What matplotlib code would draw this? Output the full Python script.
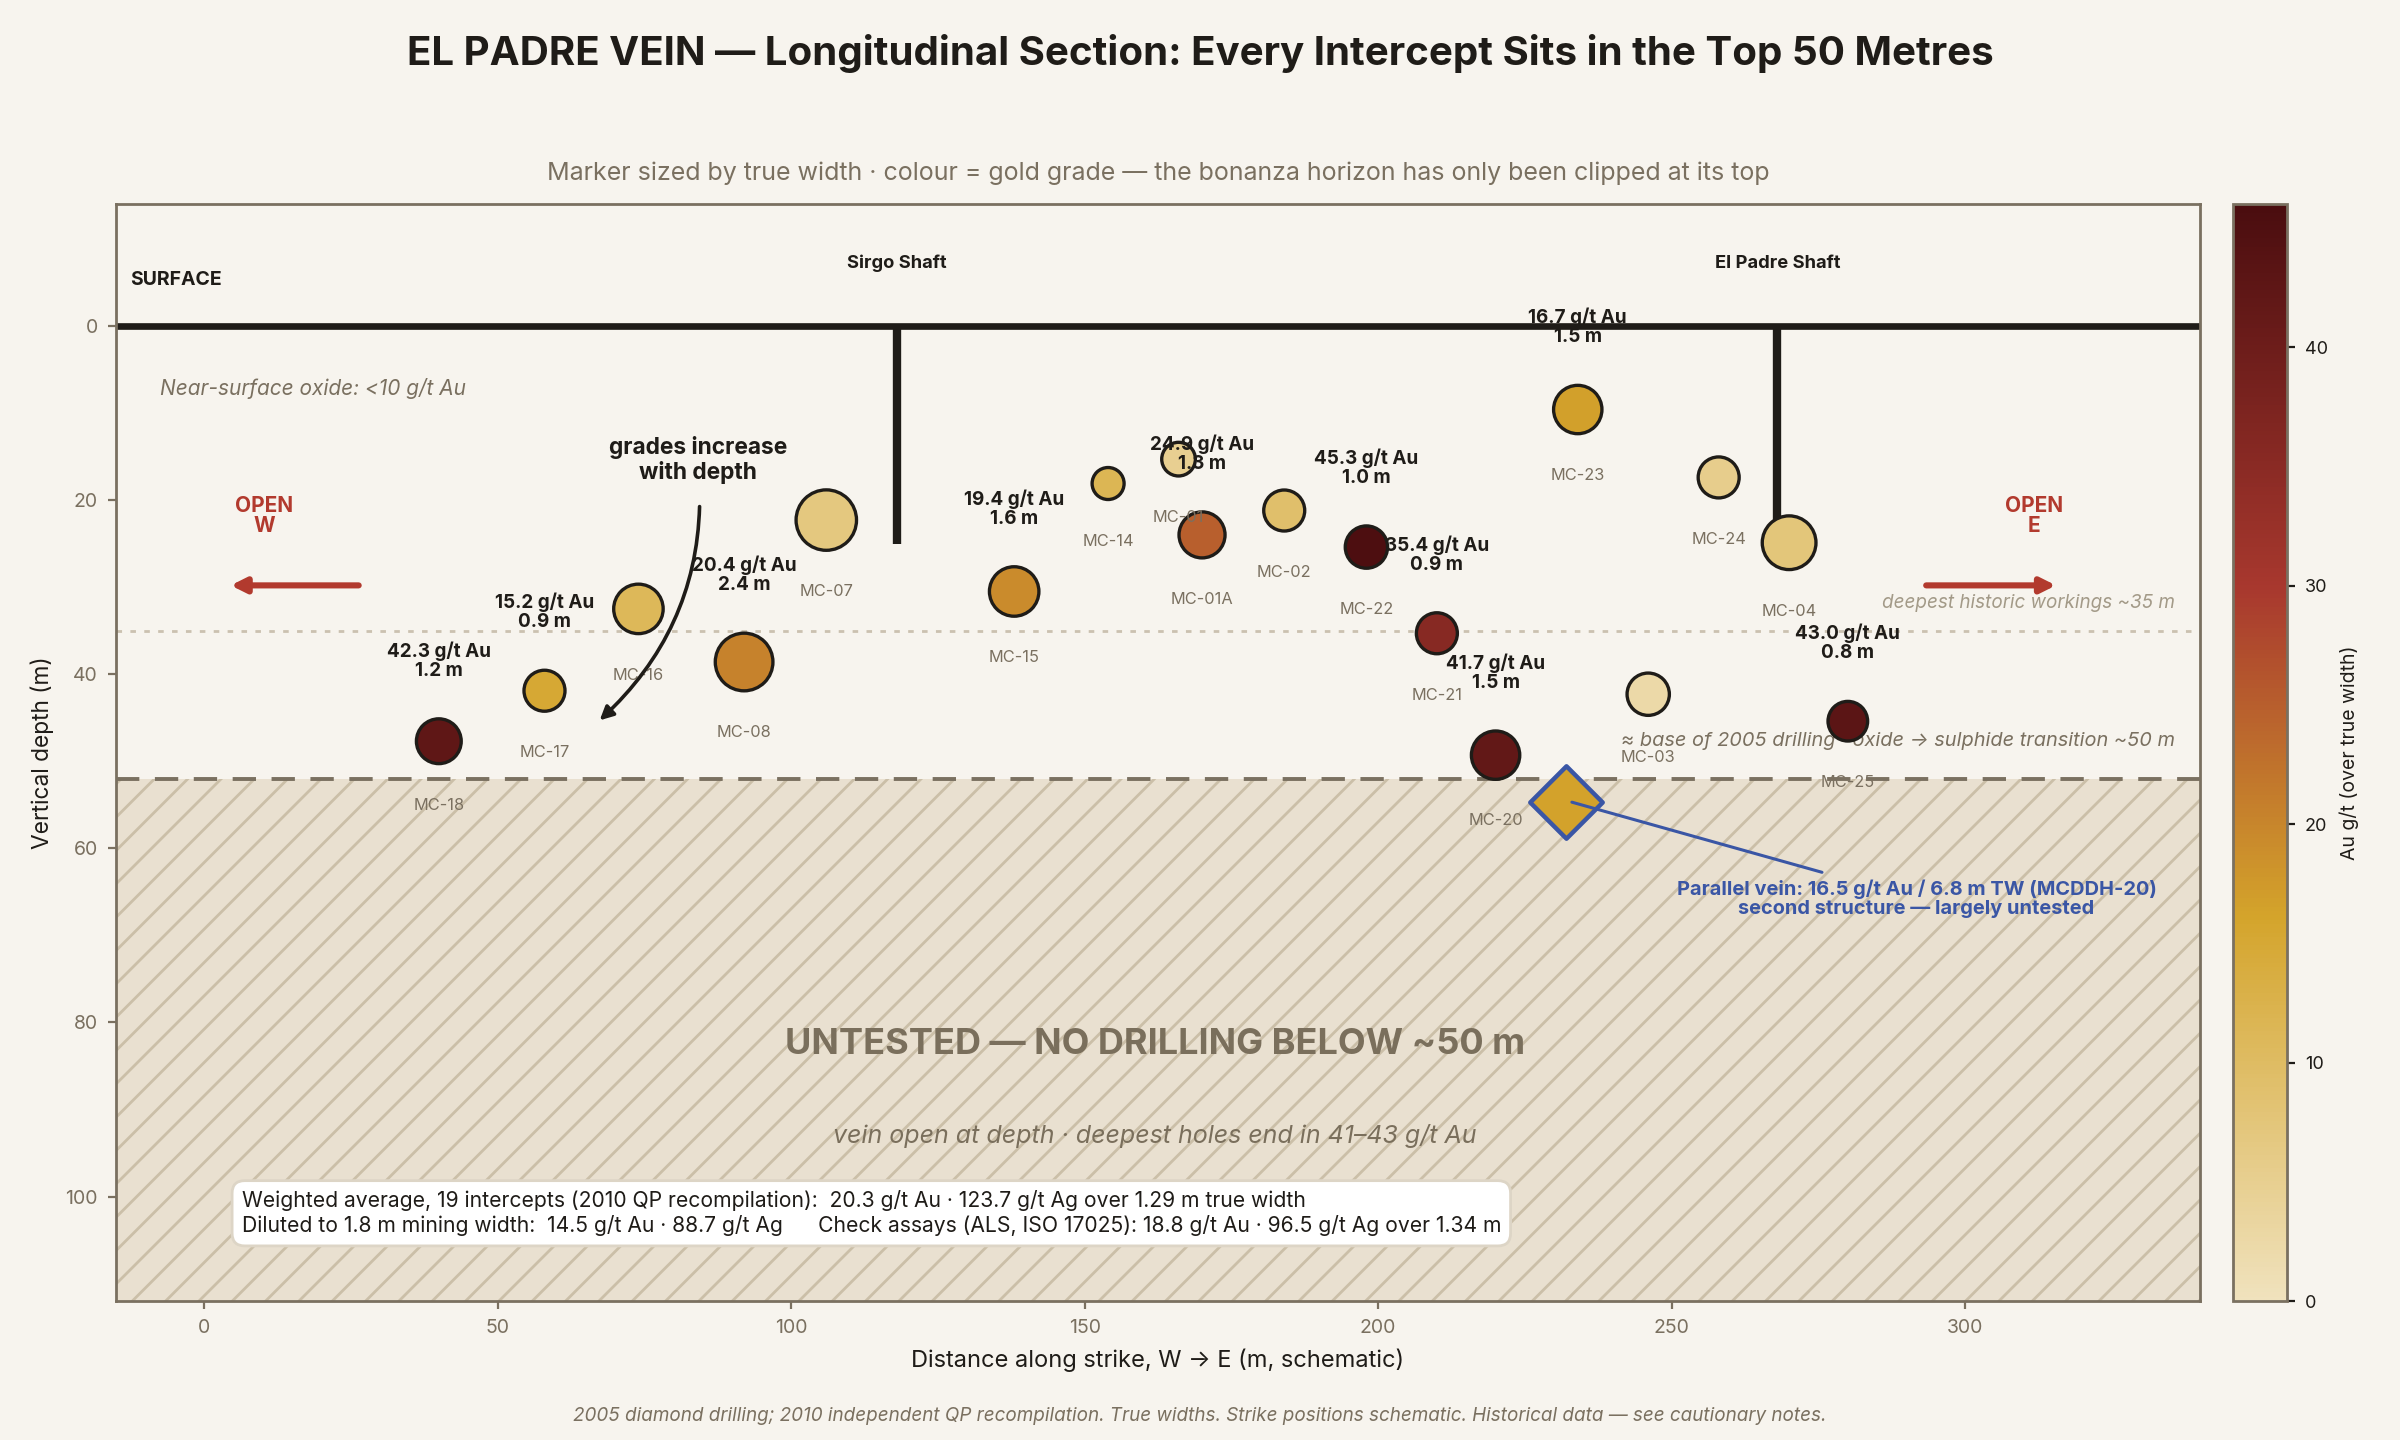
import numpy as np
import matplotlib
matplotlib.use("Agg")
import matplotlib.pyplot as plt
from matplotlib.colors import LinearSegmentedColormap, Normalize
from matplotlib.cm import ScalarMappable

plt.rcParams["font.family"] = ["Inter", "DejaVu Sans"]
plt.rcParams["hatch.linewidth"] = 1.0

BG = "#f7f4ee"
INK = "#1f1c18"
TAUPE = "#7a7060"
RED = "#b23a2e"
BLUE = "#3a56a5"

# drill intercepts (2005 programme, 2010 recompilation)
holes = ["MC-18", "MC-17", "MC-16", "MC-08", "MC-07", "MC-15", "MC-14", "MC-01", "MC-01A",
         "MC-02", "MC-22", "MC-21", "MC-20", "MC-23", "MC-24", "MC-04", "MC-03", "MC-25"]
strike_m = [40, 58, 74, 92, 106, 138, 154, 166, 170, 184, 198, 210, 220, 234, 258, 270, 246, 280]
depth_m = [47.7, 41.9, 32.5, 38.6, 22.3, 30.5, 18.1, 15.3, 24.0, 21.2, 25.4, 35.3, 49.3, 9.6,
           17.4, 24.9, 42.3, 45.4]
au_gt = [42.3, 15.2, 11.0, 20.4, 7.0, 19.4, 11.5, 5.0, 24.9, 9.0, 45.3, 35.4, 41.7, 16.7,
         5.5, 7.5, 2.5, 43.0]
true_width = [1.2, 0.9, 1.6, 2.4, 2.7, 1.6, 0.3, 0.4, 1.3, 0.9, 1.0, 0.9, 1.5, 1.5, 0.9, 2.0, 1.0, 0.8]
labelled = ["MC-18", "MC-17", "MC-08", "MC-15", "MC-01A", "MC-22", "MC-21", "MC-20", "MC-23", "MC-25"]

# parallel vein intercept (MCDDH-20)
pv_strike, pv_depth, pv_au, pv_width = 232, 54.7, 16.5, 6.8

shafts = ["Sirgo Shaft", "El Padre Shaft"]
shaft_x = [118, 268]
shaft_depth = 25

historic_depth = 35
drill_base = 52

cmap = LinearSegmentedColormap.from_list(
    "au", [(0.0, "#f0e2bd"), (0.35, "#d4a42b"), (0.65, "#a8382e"), (1.0, "#4a0d0f")])
norm = Normalize(0, 46)


def marker_size(w):
    return 90 + 142 * w


fig = plt.figure(figsize=(12, 7.2), dpi=200, facecolor=BG)
ax = fig.add_axes([0.0483, 0.0965, 0.8684, 0.7618])
ax.set_facecolor(BG)
ax.set_xlim(-15, 340)
ax.set_ylim(112, -14)

# untested zone below the drilling
ax.axhspan(drill_base, 112, facecolor="#e9e0d0", edgecolor="#cbbfa8", hatch="//", lw=0, zorder=0)
ax.axhline(drill_base, color=TAUPE, lw=1.4, ls=(0, (6, 4)), zorder=1)
ax.axhline(historic_depth, color="#cbc1b0", lw=1.0, ls=(0, (2, 3)), zorder=1)

# surface and shafts
ax.axhline(0, color=INK, lw=2.4, zorder=2)
for name, sx in zip(shafts, shaft_x):
    ax.plot([sx, sx], [0, shaft_depth], color=INK, lw=3, solid_capstyle="butt", zorder=2)
    ax.text(sx, -7.2, name, ha="center", va="center", fontsize=6.6, fontweight="bold", color=INK)
ax.text(-12.5, -5.3, "SURFACE", ha="left", va="center", fontsize=7, fontweight="bold", color=INK)
ax.text(-7.5, 7.2, "Near-surface oxide: <10 g/t Au", ha="left", va="center", fontsize=7.5,
        style="italic", color=TAUPE)

sizes = [marker_size(w) for w in true_width]
ax.scatter(strike_m, depth_m, s=sizes, c=au_gt, cmap=cmap, norm=norm,
           edgecolors=INK, linewidths=1.2, zorder=4)

for name, x, y, g, w, s in zip(holes, strike_m, depth_m, au_gt, true_width, sizes):
    r = np.sqrt(s) / 2
    ax.annotate(name, (x, y), xytext=(0, -(r + 15)), textcoords="offset points",
                ha="center", va="center", fontsize=5.9, color=TAUPE, zorder=5)
    if name in labelled:
        ax.annotate(f"{g:.1f} g/t Au\n{w:.1f} m", (x, y), xytext=(0, r + 21),
                    textcoords="offset points", ha="center", va="center", fontsize=6.8,
                    fontweight="bold", color=INK, linespacing=1.05, zorder=6)

# parallel vein
ax.scatter([pv_strike], [pv_depth], s=340, marker="D", c=[pv_au], cmap=cmap, norm=norm,
           edgecolors=BLUE, linewidths=1.6, zorder=5)
ax.annotate(f"Parallel vein: {pv_au} g/t Au / {pv_width} m TW (MCDDH-20)\nsecond structure — largely untested",
            (pv_strike + 1, pv_depth), xytext=(291.7, 65.8), textcoords="data",
            ha="center", va="center", fontsize=7.2, fontweight="bold", color=BLUE, linespacing=1.1,
            arrowprops=dict(arrowstyle="-", color=BLUE, lw=1.1, shrinkA=2, shrinkB=0), zorder=6)

# grade trend callout
ax.annotate("grades increase\nwith depth", (67.4, 45.3), xytext=(84.1, 15.4), textcoords="data",
            ha="center", va="center", fontsize=8.2, fontweight="bold", color=INK, linespacing=1.15,
            arrowprops=dict(arrowstyle="-|>", color=INK, lw=1.3, mutation_scale=10,
                            connectionstyle="arc3,rad=-0.25", shrinkA=6, shrinkB=0), zorder=6)

# open along strike
ax.text(10.2, 21.8, "OPEN\nW", ha="center", va="center", fontsize=7.5, fontweight="bold",
        color=RED, linespacing=1.0)
ax.annotate("", (3.6, 29.8), xytext=(27.3, 29.8),
            arrowprops=dict(arrowstyle="-|>", color=RED, lw=2.2, mutation_scale=11))
ax.text(311.7, 21.8, "OPEN\nE", ha="center", va="center", fontsize=7.5, fontweight="bold",
        color=RED, linespacing=1.0)
ax.annotate("", (316.4, 29.8), xytext=(292.4, 29.8),
            arrowprops=dict(arrowstyle="-|>", color=RED, lw=2.2, mutation_scale=11))

ax.text(335.7, 31.8, "deepest historic workings ~35 m", ha="right", va="center", fontsize=6.8,
        style="italic", color="#a39a88")
ax.text(335.7, 47.7, "≈ base of 2005 drilling · oxide → sulphide transition ~50 m", ha="right",
        va="center", fontsize=7.2, style="italic", color=TAUPE, zorder=3)

ax.text(162, 82.5, "UNTESTED — NO DRILLING BELOW ~50 m", ha="center", va="center", fontsize=13,
        fontweight="bold", color="#7a6f5c", zorder=3)
ax.text(162, 93, "vein open at depth · deepest holes end in 41–43 g/t Au", ha="center",
        va="center", fontsize=9, style="italic", color="#7a6f5c", zorder=3)

stats = ("Weighted average, 19 intercepts (2010 QP recompilation):  20.3 g/t Au · 123.7 g/t Ag over 1.29 m true width\n"
         "Diluted to 1.8 m mining width:  14.5 g/t Au · 88.7 g/t Ag      "
         "Check assays (ALS, ISO 17025): 18.8 g/t Au · 96.5 g/t Ag over 1.34 m")
ax.text(0.0603, 0.08, stats, transform=ax.transAxes, ha="left", va="center", fontsize=7.6,
        color=INK, linespacing=1.25, zorder=7,
        bbox=dict(boxstyle="round,pad=0.45,rounding_size=0.6", facecolor="white",
                  edgecolor="#ddd5c6", lw=1.0))

ax.set_xticks([0, 50, 100, 150, 200, 250, 300])
ax.set_yticks([0, 20, 40, 60, 80, 100])
ax.tick_params(colors=TAUPE, labelsize=7, length=3, width=0.8)
for sp in ax.spines.values():
    sp.set_color(TAUPE)
    sp.set_linewidth(1.0)
ax.set_xlabel("Distance along strike, W → E (m, schematic)", fontsize=8.5, color=INK)
ax.set_ylabel("Vertical depth (m)", fontsize=8.2, color=INK)

cax = fig.add_axes([0.9304, 0.0965, 0.0225, 0.7618])
cb = fig.colorbar(ScalarMappable(norm=norm, cmap=cmap), cax=cax)
cb.set_ticks([0, 10, 20, 30, 40])
cb.ax.tick_params(labelsize=6.5, colors=INK, length=3, width=0.8)
cb.outline.set_edgecolor(TAUPE)
cb.outline.set_linewidth(1.0)
cb.set_label("Au g/t (over true width)", fontsize=7, color=INK)

fig.text(0.5, 0.963, "EL PADRE VEIN — Longitudinal Section: Every Intercept Sits in the Top 50 Metres",
         ha="center", va="center", fontsize=14.5, fontweight="bold", color=INK)
# subtitle sits centred over the plotting area
fig.text(0.0483 + 0.8684 / 2, 0.88,
         "Marker sized by true width · colour = gold grade — the bonanza horizon has only been clipped at its top",
         ha="center", va="center", fontsize=9, color=TAUPE)
fig.text(0.5, 0.0167, "2005 diamond drilling; 2010 independent QP recompilation. True widths. Strike positions schematic. "
         "Historical data — see cautionary notes.", ha="center", va="center", fontsize=6.8,
         style="italic", color=TAUPE)

fig.savefig("out.png", dpi=200, facecolor=BG)
